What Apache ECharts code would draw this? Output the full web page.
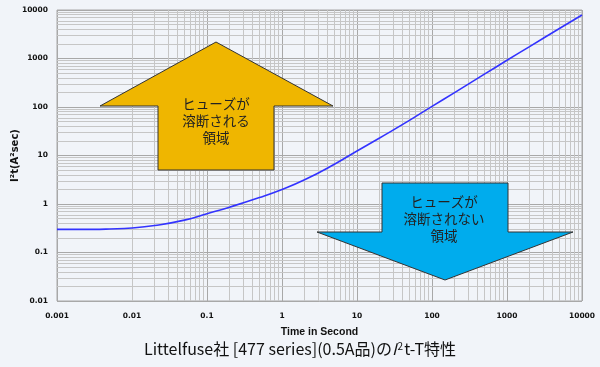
<!DOCTYPE html>
<html><head><meta charset="utf-8">
<script src="https://cdn.jsdelivr.net/npm/echarts@6/dist/echarts.min.js"></script>
<style>html,body{margin:0;padding:0;background:#f1f4f9}#c{width:600px;height:367px}</style>
</head><body><div id="c"></div>
<script>
// Data (time in seconds vs I2t in A^2 sec)
const times = [0.001, 0.002, 0.003, 0.005, 0.01, 0.02, 0.05, 0.1, 0.2, 0.5, 1, 2, 5, 10, 20, 50, 100, 200, 500, 1000, 2000, 5000, 10000];
const i2t   = [0.30, 0.30, 0.30, 0.305, 0.32, 0.36, 0.465, 0.63, 0.86, 1.36, 2.0, 3.15, 6.6, 12.4, 23, 53, 103, 198, 475, 920, 1760, 4150, 7900];
const xTickLabels = ['0.001', '0.01', '0.1', '1', '10', '100', '1000', '10000'];
const yTickLabels = ['0.01', '0.1', '1', '10', '100', '1000', '10000'];
const upText = ['ヒューズが', '溶断される', '領域'];
const downText = ['ヒューズが', '溶断されない', '領域'];

const xMinLog = -3, xMaxLog = 4, yMinLog = -2, yMaxLog = 4;
function minors(a, b) { const r = []; for (let e = a; e < b; e++) for (let k = 2; k <= 9; k++) r.push(k * Math.pow(10, e)); return r; }
const gridLines = minors(xMinLog, xMaxLog).map(v => ({ xAxis: v })).concat(minors(yMinLog, yMaxLog).map(v => ({ yAxis: v })));

const chart = echarts.init(document.getElementById('c'), null, { renderer: 'canvas' });
const tickFont = { fontFamily: 'DejaVu Sans', fontWeight: 'bold', fontSize: 7.5, color: '#111' };
const txtStyle = (x, y, s) => ({ type: 'text', x: x, y: y, z: 30, style: { text: s, fill: '#222', font: '13.5px "Noto Sans CJK JP"', textAlign: 'center', textVerticalAlign: 'middle' } });

chart.setOption({
  animation: false,
  backgroundColor: '#f1f4f9',
  grid: { left: 57, right: 18, top: 10, bottom: 66, outerBoundsMode: 'none', containLabel: false,
          show: true, borderColor: '#a8a8a8', borderWidth: 1, backgroundColor: 'transparent' },
  title: {
    text: '{n|Littelfuse社 [477 series](0.5A品)の}{i|I}{s|2}{n|t-T特性}',
    left: 'center', bottom: 5,
    textStyle: { fontWeight: 'normal', rich: {
      n: { fontFamily: 'Noto Sans CJK JP', fontSize: 16, fontWeight: 'normal', color: '#111' },
      i: { fontFamily: 'Noto Sans CJK JP', fontSize: 16, fontWeight: 'normal', fontStyle: 'italic', color: '#111' },
      s: { fontFamily: 'Noto Sans CJK JP', fontSize: 10, fontWeight: 'normal', color: '#111', verticalAlign: 'top', padding: [0, 1, 6, 1] }
    } }
  },
  xAxis: {
    type: 'log', logBase: 10, min: 0.001, max: 10000, interval: 1,
    name: 'Time in Second', nameLocation: 'middle', nameGap: 26, nameMoveOverlap: false,
    nameTextStyle: { fontFamily: 'Liberation Sans', fontWeight: 'bold', fontSize: 10.5, color: '#111' },
    axisLine: { show: false }, axisTick: { show: false },
    axisLabel: { ...tickFont, margin: 11, formatter: v => xTickLabels[Math.round(Math.log10(v)) - xMinLog] },
    splitLine: { show: true, lineStyle: { color: '#a8a8a8', width: 1 } }
  },
  yAxis: {
    type: 'log', logBase: 10, min: 0.01, max: 10000, interval: 1,
    name: 'I²t(A²sec)', nameLocation: 'middle', nameGap: 37, nameRotate: 90, nameMoveOverlap: false,
    nameTextStyle: { fontFamily: 'DejaVu Sans', fontWeight: 'bold', fontSize: 10, color: '#111' },
    axisLine: { show: false }, axisTick: { show: false },
    axisLabel: { ...tickFont, margin: 9, formatter: v => yTickLabels[Math.round(Math.log10(v)) - yMinLog] },
    splitLine: { show: true, lineStyle: { color: '#a8a8a8', width: 1 } }
  },
  series: [
    {
      type: 'line', z: 1, data: [[0.001, 0.01]], showSymbol: false, symbol: 'none',
      lineStyle: { opacity: 0 }, silent: true,
      markLine: { silent: true, symbol: 'none', label: { show: false }, animation: false,
        lineStyle: { color: '#c6c6c6', width: 1, type: 'solid' }, data: gridLines }
    },
    {
      type: 'line', z: 5, data: times.map((t, i) => [t, i2t[i]]), showSymbol: false, symbol: 'none',
      smooth: 0.5, lineStyle: { color: '#3333ff', width: 1.6 }
    }
  ],
  graphic: [
    { type: 'polygon', z: 20, shape: { points: [[216, 42], [333, 106], [274, 106], [274, 170], [158, 170], [158, 106], [100, 106]] },
      style: { fill: '#efb600', stroke: '#333', lineWidth: 1 } },
    txtStyle(216, 104, upText[0]), txtStyle(216, 121, upText[1]), txtStyle(216, 138, upText[2]),
    { type: 'polygon', z: 20, shape: { points: [[382, 183], [508, 183], [508, 232], [573, 232], [445, 280], [317, 232], [382, 232]] },
      style: { fill: '#00aced', stroke: '#333', lineWidth: 1 } },
    txtStyle(444, 202, downText[0]), txtStyle(444, 219, downText[1]), txtStyle(444, 236, downText[2])
  ]
});
</script></body></html>
